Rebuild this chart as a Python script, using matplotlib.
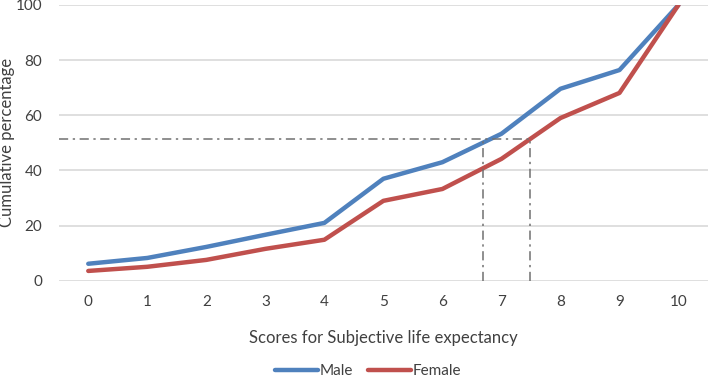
import matplotlib
matplotlib.use("Agg")
import matplotlib.pyplot as plt

scores = [0, 1, 2, 3, 4, 5, 6, 7, 8, 9, 10]
male = [6.2, 8.3, 12.3, 16.7, 21.0, 37.0, 43.0, 53.3, 69.6, 76.4, 100.0]
female = [3.6, 5.1, 7.6, 11.6, 14.9, 29.0, 33.3, 44.2, 59.0, 68.1, 100.0]
median_level = 51.4
male_median = 6.68
female_median = 7.48

plt.rcParams["font.family"] = ["Lato", "DejaVu Sans"]

fig = plt.figure(figsize=(7.08, 3.77), dpi=100)
ax = fig.add_axes([0.083, 0.255, 0.917, 0.732])

ax.plot(scores, male, color="#4f81bd", lw=3.2, label="Male", solid_capstyle="round")
ax.plot(scores, female, color="#c0504d", lw=3.2, label="Female", solid_capstyle="round")

ref = dict(color="#707070", lw=1.1, ls=(0, (6, 3, 1.5, 3)))
ax.plot([-0.5, female_median], [median_level, median_level], **ref)
ax.plot([male_median, male_median], [0, median_level], **ref)
ax.plot([female_median, female_median], [0, median_level], **ref)

ax.set_xlim(-0.5, 10.5)
ax.set_ylim(0, 100)
ax.set_xticks(scores)
ax.set_yticks([0, 20, 40, 60, 80, 100])
ax.grid(axis="y", color="#d9d9d9", lw=1.2)
ax.set_axisbelow(True)
for s in ax.spines.values():
    s.set_visible(False)
ax.tick_params(length=0, labelsize=11, colors="#404040", pad=10)
ax.tick_params(axis="y", pad=12)

ax.set_xlabel("Scores for Subjective life expectancy", fontsize=12, color="#404040", labelpad=15)
ax.set_ylabel("Cumulative percentage", fontsize=12, color="#404040")
ax.yaxis.set_label_coords(-0.068, 0.5)

fig.legend(loc="lower center", bbox_to_anchor=(0.52, -0.04), ncol=2, frameon=False,
           fontsize=11, handlelength=2.8, labelcolor="#404040", columnspacing=1.0, handletextpad=0.1)

fig.savefig("out.png", dpi=100)
